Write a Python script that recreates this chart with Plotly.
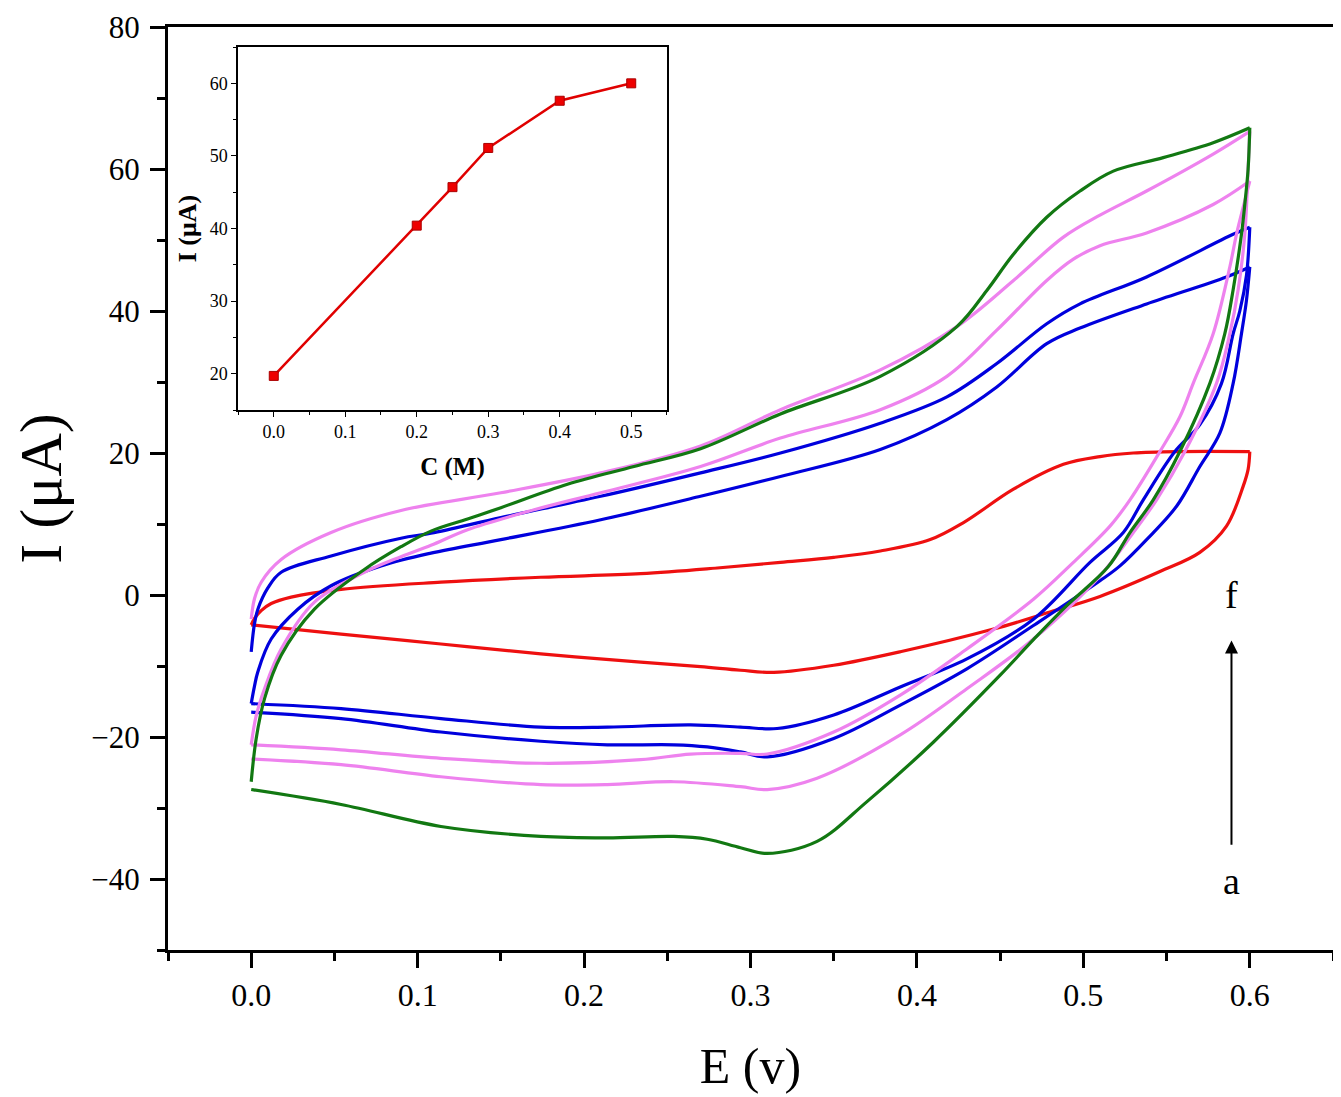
import plotly.graph_objects as go

# ---------------- main CV data (E in V, I in uA) ----------------
red_fwd_E = [0.0, 0.002, 0.006, 0.012, 0.024, 0.054, 0.114, 0.174, 0.234, 0.28, 0.318, 0.35, 0.378, 0.408, 0.428, 0.458, 0.488, 0.51, 0.53, 0.558, 0.6]
red_fwd_I = [-4.2, -3.3, -2.2, -1.2, -0.3, 0.8, 1.8, 2.5, 3.0, 3.8, 4.6, 5.3, 6.2, 7.8, 10.2, 14.9, 18.4, 19.5, 20.0, 20.2, 20.2]
red_rev_E = [0.6, 0.599, 0.596, 0.586, 0.57, 0.546, 0.51, 0.48, 0.446, 0.39, 0.35, 0.314, 0.294, 0.27, 0.234, 0.174, 0.114, 0.054, 0.0]
red_rev_I = [20.2, 17.7, 15.3, 9.7, 6.0, 3.3, -0.2, -2.4, -4.8, -8.0, -9.9, -10.9, -10.6, -10.1, -9.45, -8.3, -6.9, -5.5, -4.2]

blue2_fwd_E = [0.0, 0.002, 0.004, 0.012, 0.028, 0.048, 0.078, 0.108, 0.15, 0.21, 0.27, 0.318, 0.378, 0.418, 0.448, 0.478, 0.498, 0.538, 0.586, 0.6]
blue2_fwd_I = [-15.3, -12.8, -10.8, -6.2, -2.0, 1.3, 4.1, 5.9, 7.8, 10.6, 13.9, 16.7, 20.5, 24.7, 29.3, 35.4, 37.6, 41.0, 44.8, 46.2]
blue2_rev_E = [0.6, 0.598, 0.595, 0.59, 0.582, 0.57, 0.556, 0.538, 0.522, 0.51, 0.47, 0.43, 0.39, 0.35, 0.31, 0.294, 0.274, 0.254, 0.214, 0.174, 0.114, 0.054, 0.0]
blue2_rev_I = [46.2, 41.5, 36.8, 29.8, 22.8, 18.1, 12.5, 7.8, 4.1, 2.0, -4.3, -10.4, -15.5, -20.2, -22.8, -22.1, -21.4, -21.1, -21.1, -20.6, -19.3, -17.4, -16.5]

blue1_fwd_E = [0.0, 0.002, 0.004, 0.01, 0.018, 0.048, 0.09, 0.108, 0.15, 0.21, 0.27, 0.318, 0.378, 0.418, 0.448, 0.478, 0.498, 0.538, 0.59, 0.6]
blue1_fwd_I = [-8.0, -4.0, -2.0, 1.0, 3.2, 5.5, 8.0, 8.7, 10.9, 13.9, 17.2, 20.0, 24.2, 27.9, 32.6, 38.2, 41.0, 44.8, 50.8, 51.8]
blue1_rev_E = [0.6, 0.598, 0.594, 0.59, 0.583, 0.57, 0.555, 0.536, 0.524, 0.504, 0.47, 0.43, 0.39, 0.35, 0.316, 0.294, 0.264, 0.214, 0.174, 0.114, 0.054, 0.0]
blue1_rev_I = [51.8, 45.0, 40.0, 36.8, 29.8, 24.0, 20.2, 13.4, 8.8, 4.6, -3.4, -9.0, -12.95, -16.9, -18.8, -18.6, -18.3, -18.6, -18.6, -17.4, -16.0, -15.3]

pink2_fwd_E = [0.0, 0.003, 0.008, 0.018, 0.038, 0.068, 0.09, 0.108, 0.13, 0.17, 0.21, 0.27, 0.318, 0.378, 0.418, 0.448, 0.478, 0.494, 0.51, 0.538, 0.578, 0.6]
pink2_fwd_I = [-21.1, -17.0, -13.2, -7.6, -1.0, 3.2, 5.4, 7.0, 9.2, 12.0, 14.4, 18.1, 22.1, 26.1, 30.8, 37.3, 44.3, 47.3, 49.2, 51.0, 55.0, 58.3]
pink2_rev_E = [0.6, 0.597, 0.592, 0.588, 0.578, 0.566, 0.558, 0.546, 0.528, 0.516, 0.494, 0.47, 0.43, 0.39, 0.35, 0.31, 0.294, 0.264, 0.234, 0.174, 0.114, 0.054, 0.0]
pink2_rev_I = [58.3, 55.5, 50.8, 46.2, 36.8, 29.8, 25.1, 20.2, 13.4, 9.7, 4.6, -0.6, -7.6, -14.1, -19.3, -22.4, -22.3, -22.4, -23.2, -23.7, -23.0, -21.8, -21.1]

pink1_fwd_E = [0.0, 0.002, 0.006, 0.018, 0.048, 0.09, 0.15, 0.21, 0.27, 0.318, 0.378, 0.424, 0.458, 0.488, 0.51, 0.538, 0.578, 0.6]
pink1_fwd_I = [-3.4, -0.5, 1.8, 5.0, 8.8, 11.9, 14.4, 17.2, 21.0, 26.1, 31.7, 37.8, 44.3, 50.4, 53.5, 56.9, 62.1, 65.3]
pink1_rev_E = [0.6, 0.599, 0.597, 0.593, 0.588, 0.58, 0.561, 0.544, 0.53, 0.51, 0.47, 0.43, 0.39, 0.34, 0.31, 0.294, 0.254, 0.214, 0.174, 0.114, 0.054, 0.0]
pink1_rev_I = [65.3, 60.0, 50.8, 43.0, 36.8, 29.8, 20.2, 13.4, 8.8, 2.7, -6.2, -13.2, -19.7, -25.8, -27.4, -27.0, -26.3, -26.7, -26.7, -25.6, -23.9, -23.1]

green_fwd_E = [0.0, 0.003, 0.008, 0.018, 0.038, 0.068, 0.09, 0.108, 0.13, 0.15, 0.19, 0.23, 0.27, 0.318, 0.378, 0.424, 0.442, 0.458, 0.478, 0.498, 0.518, 0.548, 0.578, 0.6]
green_fwd_I = [-26.3, -20.2, -14.6, -8.5, -2.0, 3.6, 6.8, 9.0, 10.7, 12.3, 15.6, 18.1, 20.6, 25.5, 30.8, 37.8, 42.9, 48.0, 53.2, 56.9, 59.7, 61.6, 63.7, 65.8]
green_rev_E = [0.6, 0.599, 0.597, 0.595, 0.59, 0.585, 0.576, 0.558, 0.542, 0.528, 0.515, 0.49, 0.47, 0.45, 0.41, 0.37, 0.34, 0.31, 0.294, 0.274, 0.254, 0.214, 0.174, 0.114, 0.054, 0.0]
green_rev_I = [65.8, 60.0, 55.0, 50.8, 43.0, 36.8, 29.8, 20.2, 13.4, 8.8, 4.0, -1.5, -6.3, -11.3, -20.7, -29.1, -34.7, -36.4, -35.6, -34.4, -34.0, -34.2, -34.0, -32.6, -29.5, -27.4]

# ---------------- inset data ----------------
inset_C = [0.0, 0.2, 0.25, 0.3, 0.4, 0.5]
inset_I = [19.7, 40.4, 45.7, 51.1, 57.6, 60.0]

# ---------------- labels ----------------
x_title = "E (v)"
y_title = "I (μA)"
inset_x_title = "<b>C (M)</b>"
inset_y_title = "<b>I (μA)</b>"

RED = "#ee1010"
BLUE = "#0000dd"
PINK = "#ee82ee"
GREEN = "#127812"
SERIF = "Liberation Serif"

curves = [
    (RED, red_fwd_E, red_fwd_I, red_rev_E, red_rev_I),
    (BLUE, blue2_fwd_E, blue2_fwd_I, blue2_rev_E, blue2_rev_I),
    (BLUE, blue1_fwd_E, blue1_fwd_I, blue1_rev_E, blue1_rev_I),
    (PINK, pink2_fwd_E, pink2_fwd_I, pink2_rev_E, pink2_rev_I),
    (PINK, pink1_fwd_E, pink1_fwd_I, pink1_rev_E, pink1_rev_I),
    (GREEN, green_fwd_E, green_fwd_I, green_rev_E, green_rev_I),
]

fig = go.Figure()
for col, fe, fi, re_, ri in curves:
    for xs, ys in ((fe, fi), (re_, ri)):
        fig.add_trace(go.Scatter(
            x=xs, y=ys, mode="lines",
            line=dict(color=col, width=3.2, shape="spline", smoothing=1.0),
            showlegend=False, hoverinfo="skip",
            xaxis="x", yaxis="y"))

fig.add_trace(go.Scatter(
    x=inset_C, y=inset_I, mode="lines+markers",
    line=dict(color="#e00000", width=2.5),
    marker=dict(symbol="square", size=9, color="#ee0000",
                line=dict(color="#aa0000", width=1)),
    showlegend=False, xaxis="x2", yaxis="y2"))

axis_common = dict(showline=True, linecolor="black", mirror=True,
                   showgrid=False, zeroline=False, ticks="outside",
                   tickcolor="black", automargin=False,
                   ticklabeloverflow="allow")

# the page body adds an ~8 px offset, so the figure is sized to the remaining area
fig.update_layout(
    width=1333, height=1089,
    margin=dict(l=160, r=8, t=19, b=147),
    paper_bgcolor="white", plot_bgcolor="white",
    font=dict(family=SERIF, color="black"),
    showlegend=False,
    xaxis=dict(**axis_common, range=[-0.05, 0.65], dtick=0.1, tick0=0,
               tickformat=".1f", linewidth=3, ticklen=15, tickwidth=3,
               tickfont=dict(family=SERIF, size=32),
               minor=dict(dtick=0.05, tick0=0, ticks="outside", ticklen=8,
                          tickwidth=3, tickcolor="black"),
               title=dict(text=x_title, font=dict(family=SERIF, size=50),
                          standoff=36)),
    yaxis=dict(**axis_common, range=[-50, 80], dtick=20, tick0=0,
               linewidth=3, ticklen=15, tickwidth=3, ticklabelstandoff=4,
               tickfont=dict(family=SERIF, size=31),
               minor=dict(dtick=10, tick0=0, ticks="outside", ticklen=8,
                          tickwidth=3, tickcolor="black"),
               title=dict(text=y_title, font=dict(family=SERIF, size=60),
                          standoff=42)),
    xaxis2=dict(**axis_common, domain=[0.0601, 0.4283], anchor="y2",
                range=[-0.05, 0.55], dtick=0.1, tick0=0, tickformat=".1f",
                linewidth=1.5, ticklen=5, tickwidth=1.2,
                tickfont=dict(family=SERIF, size=18),
                minor=dict(dtick=0.05, tick0=0, ticks="outside", ticklen=3,
                           tickwidth=1, tickcolor="black"),
                title=dict(text=inset_x_title, font=dict(family=SERIF, size=25),
                           standoff=16)),
    yaxis2=dict(**axis_common, domain=[0.585, 0.9783], anchor="x2",
                range=[15, 65], dtick=10, tick0=0,
                linewidth=1.5, ticklen=5, tickwidth=1.2,
                tickfont=dict(family=SERIF, size=18),
                minor=dict(dtick=5, tick0=0, ticks="outside", ticklen=3,
                           tickwidth=1, tickcolor="black"),
                title=dict(text=inset_y_title, font=dict(family=SERIF, size=26),
                           standoff=6)),
    annotations=[
        dict(x=0.589, y=-6.4, ax=0.589, ay=-35.4, xref="x", yref="y",
             axref="x", ayref="y", text="", showarrow=True, arrowhead=2,
             arrowsize=1.3, arrowwidth=2, arrowcolor="black"),
        dict(x=0.589, y=0.0, xref="x", yref="y", text="f", showarrow=False,
             font=dict(family=SERIF, size=38, color="black")),
        dict(x=0.589, y=-40.3, xref="x", yref="y", text="a", showarrow=False,
             font=dict(family=SERIF, size=38, color="black")),
    ],
)

fig.write_html("out.html")
